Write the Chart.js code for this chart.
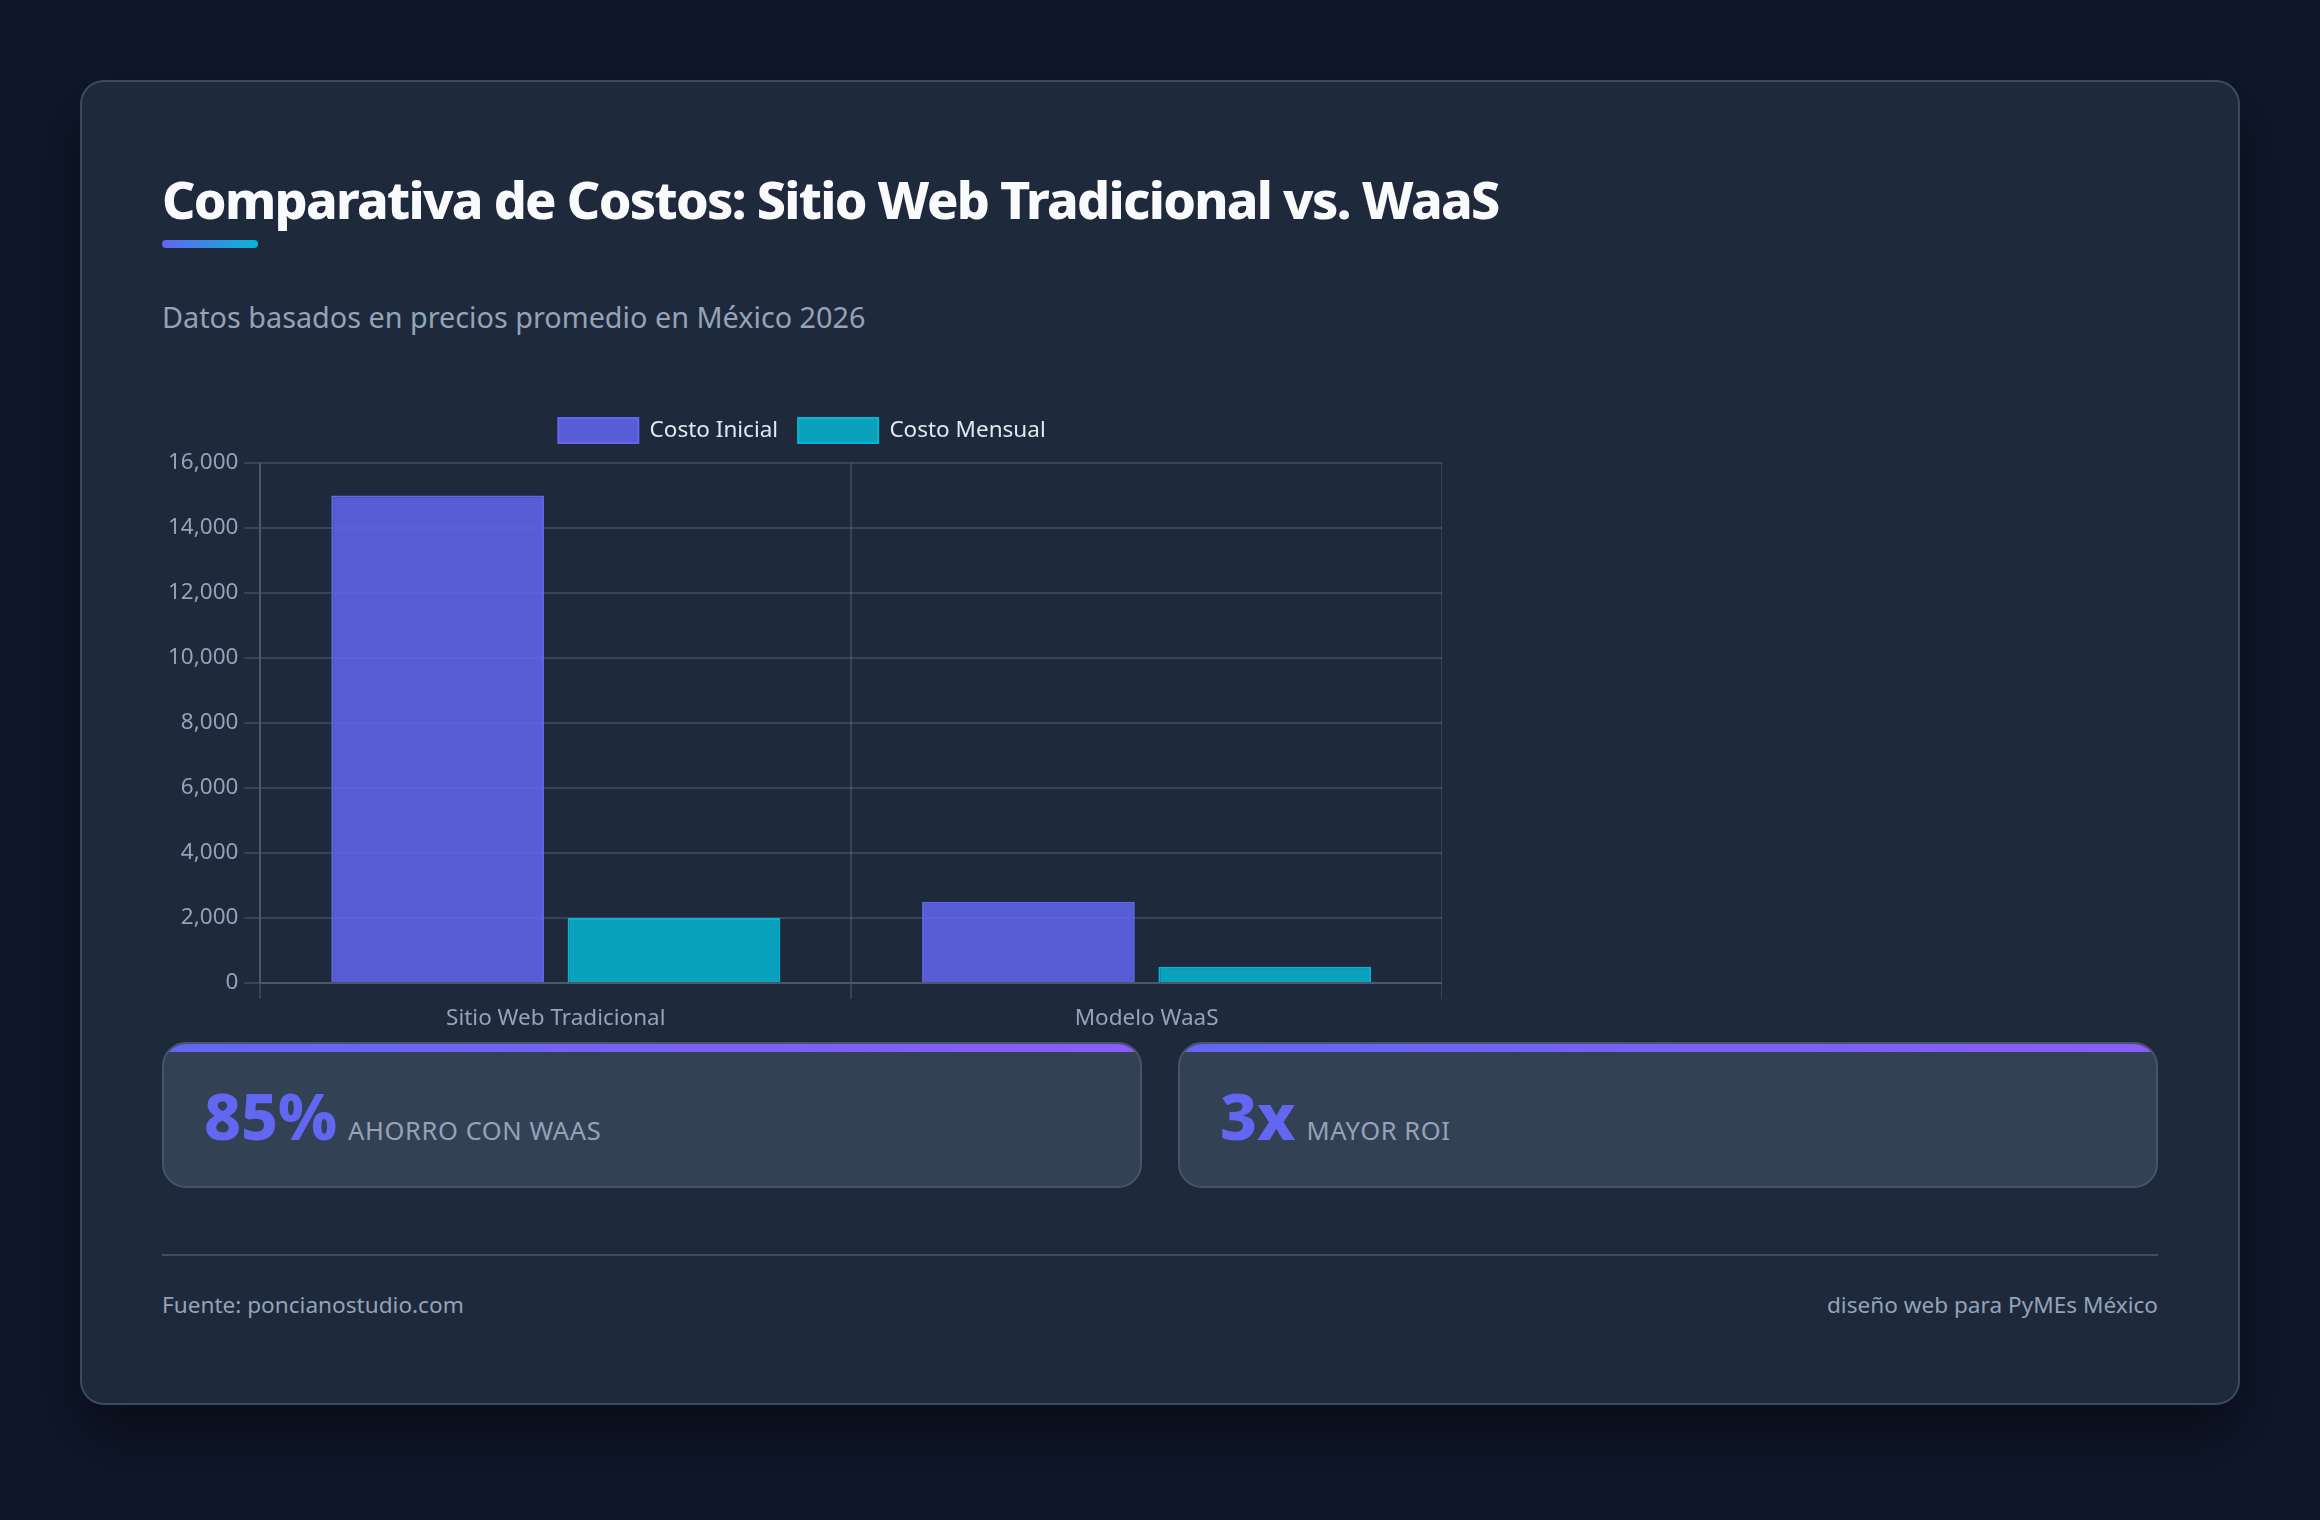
<!DOCTYPE html>
<html lang="es">
<head>
<meta charset="UTF-8">
<title>Comparativa de Costos</title>
<script src="https://cdn.jsdelivr.net/npm/chart.js@4.4.1/dist/chart.umd.min.js"></script>
<style>
    html, body {
        margin: 0;
        padding: 0;
    }
    body {
        background: #0f172a;
        font-family: 'Noto Sans', sans-serif;
        padding: 80px;
        width: 2320px;
        height: 1520px;
        box-sizing: border-box;
    }
    .card {
        background: #1e293b;
        border: 2px solid #3b4a5f;
        border-radius: 24px;
        padding: 80px;
        box-shadow: 0 30px 60px rgba(0, 0, 0, 0.45);
    }
    h1 {
        margin: 5px 0 0 0;
        font-size: 52px;
        line-height: 64px;
        font-weight: 800;
        color: #f8fafc;
        letter-spacing: -1.7px;
    }
    .bar-accent {
        margin-top: 9px;
        width: 96px;
        height: 8px;
        border-radius: 4px;
        background: linear-gradient(90deg, #6366f1, #06b6d4);
    }
    .subtitle {
        margin-top: 49px;
        font-size: 28.8px;
        line-height: 40px;
        color: #94a3b8;
    }
    .chart-box {
        margin-top: 61px;
        width: 1280px;
        height: 640px;
        position: relative;
    }
    .stats {
        margin-top: 4px;
        display: grid;
        grid-template-columns: 1fr 1fr;
        gap: 36px;
    }
    .stat {
        position: relative;
        overflow: hidden;
        background: #334155;
        border: 2px solid #46556b;
        border-radius: 24px;
        padding: 40px 40px 38px 40px;
        display: flex;
        align-items: baseline;
    }
    .stat::before {
        content: '';
        position: absolute;
        left: 0;
        right: 0;
        top: 0;
        height: 8px;
        background: linear-gradient(90deg, #6366f1, #8b5cf6);
    }
    .stat .num {
        font-size: 64px;
        line-height: 64px;
        font-weight: 800;
        color: #6366f1;
    }
    .stat .label {
        margin-left: 11px;
        font-size: 25.5px;
        color: #94a3b8;
        text-transform: uppercase;
        letter-spacing: 0.6px;
    }
    .divider {
        margin-top: 66px;
        border-top: 2px solid #3e4c61;
    }
    .footer {
        padding-top: 31px;
        display: flex;
        justify-content: space-between;
        font-size: 22.6px;
        line-height: 36px;
        color: #94a3b8;
    }
</style>
</head>
<body>
<div class="card">
    <h1>Comparativa de Costos: Sitio Web Tradicional vs. WaaS</h1>
    <div class="bar-accent"></div>
    <div class="subtitle">Datos basados en precios promedio en México 2026</div>

    <div class="chart-box">
        <canvas id="costos-chart"></canvas>
    </div>

    <div class="stats">
        <div class="stat"><span class="num">85%</span><span class="label">Ahorro con WaaS</span></div>
        <div class="stat"><span class="num">3x</span><span class="label">Mayor ROI</span></div>
    </div>

    <div class="divider"></div>
    <div class="footer">
        <span>Fuente: poncianostudio.com</span>
        <span>diseño web para PyMEs México</span>
    </div>
</div>

<script>
// --- Datos del grafico ---
const categorias = ['Sitio Web Tradicional', 'Modelo WaaS'];
const seriesNombres = ['Costo Inicial', 'Costo Mensual'];
const costoInicial = [15000, 2500];
const costoMensual = [2000, 500];
const ejeYMax = 16000;
const ejeYPaso = 2000;

// colores (relleno / borde)
const colorInicial = ['rgba(99, 102, 241, 0.85)', '#6366f1'];
const colorMensual = ['rgba(6, 182, 212, 0.85)', '#06b6d4'];

const gridColor = 'rgba(148, 163, 184, 0.22)';
const textoEjes = '#94a3b8';

Chart.defaults.font.family = "'Noto Sans', sans-serif";
Chart.defaults.font.size = 22.5;

// un poco mas de aire entre la leyenda y el area del grafico
const legendMargin = {
    id: 'legendMargin',
    beforeInit(chart) {
        const fitOriginal = chart.legend.fit;
        chart.legend.fit = function () {
            fitOriginal.bind(chart.legend)();
            this.height += 10;
        };
    }
};

const ctx = document.getElementById('costos-chart').getContext('2d');

new Chart(ctx, {
    type: 'bar',
    data: {
        labels: categorias,
        datasets: [
            {
                label: seriesNombres[0],
                data: costoInicial,
                backgroundColor: colorInicial[0],
                borderColor: colorInicial[1],
                borderWidth: 2
            },
            {
                label: seriesNombres[1],
                data: costoMensual,
                backgroundColor: colorMensual[0],
                borderColor: colorMensual[1],
                borderWidth: 2
            }
        ]
    },
    options: {
        responsive: true,
        maintainAspectRatio: false,
        animation: false,
        plugins: {
            legend: {
                position: 'top',
                labels: {
                    color: '#e2e8f0',
                    boxWidth: 80,
                    boxHeight: 25,
                    padding: 20
                }
            },
            tooltip: { enabled: false }
        },
        scales: {
            x: {
                grid: { color: gridColor, lineWidth: 2, tickLength: 16 },
                border: { color: gridColor, width: 2 },
                ticks: { color: textoEjes, padding: 6 }
            },
            y: {
                beginAtZero: true,
                max: ejeYMax,
                grid: { color: gridColor, lineWidth: 2, tickLength: 16 },
                border: { color: gridColor, width: 2 },
                ticks: { color: textoEjes, stepSize: ejeYPaso, padding: 6 }
            }
        }
    },
    plugins: [legendMargin]
});
</script>
</body>
</html>
